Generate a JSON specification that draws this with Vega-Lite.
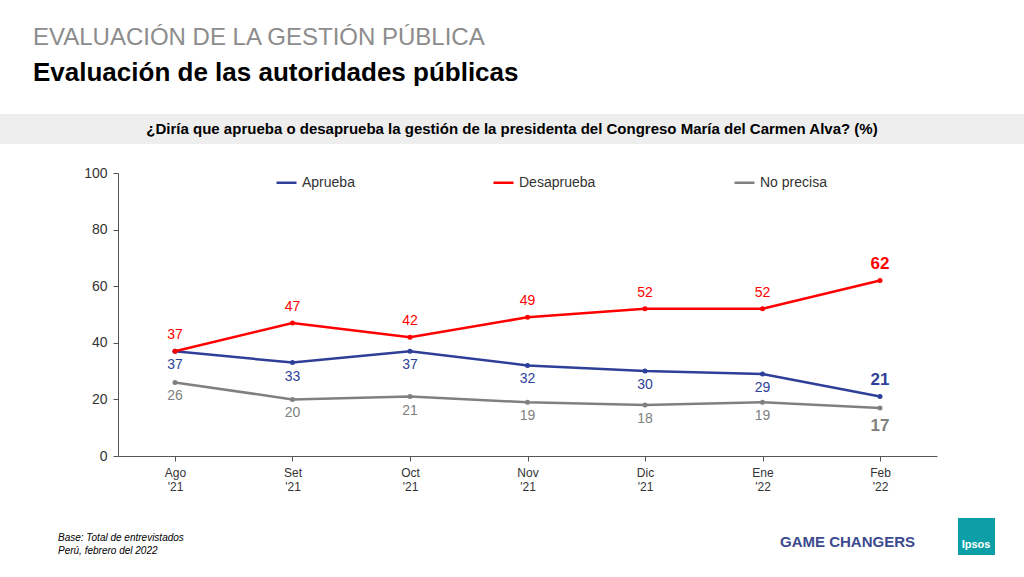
{
  "$schema": "https://vega.github.io/schema/vega-lite/v6.json",
  "width": 819,
  "height": 283,
  "autosize": "none",
  "padding": {"left": 118, "top": 173, "right": 87, "bottom": 121},
  "background": "white",
  "config": {"view": {"stroke": null}, "font": "Liberation Sans"},
  "title": {
    "text": "EVALUACIÓN DE LA GESTIÓN PÚBLICA",
    "subtitle": "Evaluación de las autoridades públicas",
    "anchor": "start",
    "frame": "group",
    "dx": -85,
    "offset": 28,
    "font": "Liberation Sans",
    "fontSize": 24,
    "fontWeight": "normal",
    "color": "#8c8c8c",
    "subtitleFont": "Liberation Sans",
    "subtitleFontSize": 26,
    "subtitleFontWeight": "bold",
    "subtitleColor": "#000000",
    "subtitlePadding": 10
  },
  "data": {
    "values": [
      {"m": "Ago '21", "s": "Aprueba", "v": 37},
      {"m": "Set '21", "s": "Aprueba", "v": 33},
      {"m": "Oct '21", "s": "Aprueba", "v": 37},
      {"m": "Nov '21", "s": "Aprueba", "v": 32},
      {"m": "Dic '21", "s": "Aprueba", "v": 30},
      {"m": "Ene '22", "s": "Aprueba", "v": 29},
      {"m": "Feb '22", "s": "Aprueba", "v": 21, "last": true},
      {"m": "Ago '21", "s": "Desaprueba", "v": 37},
      {"m": "Set '21", "s": "Desaprueba", "v": 47},
      {"m": "Oct '21", "s": "Desaprueba", "v": 42},
      {"m": "Nov '21", "s": "Desaprueba", "v": 49},
      {"m": "Dic '21", "s": "Desaprueba", "v": 52},
      {"m": "Ene '22", "s": "Desaprueba", "v": 52},
      {"m": "Feb '22", "s": "Desaprueba", "v": 62, "last": true},
      {"m": "Ago '21", "s": "No precisa", "v": 26},
      {"m": "Set '21", "s": "No precisa", "v": 20},
      {"m": "Oct '21", "s": "No precisa", "v": 21},
      {"m": "Nov '21", "s": "No precisa", "v": 19},
      {"m": "Dic '21", "s": "No precisa", "v": 18},
      {"m": "Ene '22", "s": "No precisa", "v": 19},
      {"m": "Feb '22", "s": "No precisa", "v": 17, "last": true}
    ]
  },
  "encoding": {
    "x": {
      "field": "m", "type": "ordinal", "sort": null,
      "scale": {"type": "point", "padding": 0.485},
      "axis": {"title": null, "labelAngle": 0, "labelExpr": "split(datum.label, ' ')", "labelFontSize": 12, "labelColor": "#333", "domainColor": "#555", "tickColor": "#555", "labelPadding": 6}
    },
    "y": {
      "field": "v", "type": "quantitative",
      "scale": {"domain": [0, 100]},
      "axis": {"title": null, "values": [0, 20, 40, 60, 80, 100], "grid": false, "labelFontSize": 14, "labelColor": "#333", "domainColor": "#555", "tickColor": "#555", "labelPadding": 6}
    },
    "color": {
      "field": "s", "type": "nominal",
      "scale": {"domain": ["Aprueba", "Desaprueba", "No precisa"], "range": ["#2e3f99", "#ff0000", "#808080"]},
      "legend": {"title": null, "orient": "none", "legendX": 157, "legendY": -2, "direction": "horizontal", "symbolType": "stroke", "symbolSize": 400, "symbolStrokeWidth": 2.5, "labelFontSize": 14, "labelColor": "#333", "columnPadding": 133}
    }
  },
  "layer": [
    {"mark": {"type": "line", "strokeWidth": 2.5, "point": {"size": 25, "filled": true}}},
    {
      "transform": [{"filter": "datum.s == 'Desaprueba' && !datum.last"}],
      "mark": {"type": "text", "dy": -16, "fontSize": 14},
      "encoding": {"text": {"field": "v"}}
    },
    {
      "transform": [{"filter": "datum.s != 'Desaprueba' && !datum.last"}],
      "mark": {"type": "text", "dy": 14, "fontSize": 14},
      "encoding": {"text": {"field": "v"}}
    },
    {
      "transform": [{"filter": "datum.s != 'No precisa' && datum.last"}],
      "mark": {"type": "text", "dy": -17, "fontSize": 17, "fontWeight": "bold"},
      "encoding": {"text": {"field": "v"}}
    },
    {
      "transform": [{"filter": "datum.s == 'No precisa' && datum.last"}],
      "mark": {"type": "text", "dy": 18, "fontSize": 17, "fontWeight": "bold"},
      "encoding": {"text": {"field": "v"}}
    },
    {
      "data": {"values": [{"q": "¿Diría que aprueba o desaprueba la gestión de la presidenta del Congreso María del Carmen Alva? (%)"}]},
      "layer": [
        {"mark": {"type": "rect"}, "encoding": {"x": {"value": -118}, "x2": {"value": 906}, "y": {"value": -59}, "y2": {"value": -29}, "color": {"value": "#eeeeee"}}},
        {"mark": {"type": "text", "fontSize": 15, "fontWeight": "bold"}, "encoding": {"text": {"field": "q"}, "x": {"value": 394}, "y": {"value": -44}, "color": {"value": "#000"}}}
      ]
    },
    {
      "data": {"values": [{"a": "Base: Total de entrevistados", "b": "Perú, febrero del 2022", "g": "GAME CHANGERS"}]},
      "layer": [
        {"mark": {"type": "text", "align": "left", "fontSize": 10, "fontStyle": "italic"}, "encoding": {"text": {"field": "a"}, "x": {"value": -60}, "y": {"value": 365}, "color": {"value": "#000"}}},
        {"mark": {"type": "text", "align": "left", "fontSize": 10, "fontStyle": "italic"}, "encoding": {"text": {"field": "b"}, "x": {"value": -60}, "y": {"value": 378}, "color": {"value": "#000"}}},
        {"mark": {"type": "text", "align": "left", "fontSize": 15, "fontWeight": "bold"}, "encoding": {"text": {"field": "g"}, "x": {"value": 662}, "y": {"value": 369}, "color": {"value": "#3c4a8f"}}},
        {"mark": {"type": "rect"}, "encoding": {"x": {"value": 840}, "x2": {"value": 877}, "y": {"value": 345}, "y2": {"value": 382}, "color": {"value": "#0d9fa8"}}},
        {"mark": {"type": "text", "fontSize": 11, "fontWeight": "bold"}, "encoding": {"text": {"value": "Ipsos"}, "x": {"value": 858}, "y": {"value": 372}, "color": {"value": "#ffffff"}}}
      ]
    }
  ]
}
